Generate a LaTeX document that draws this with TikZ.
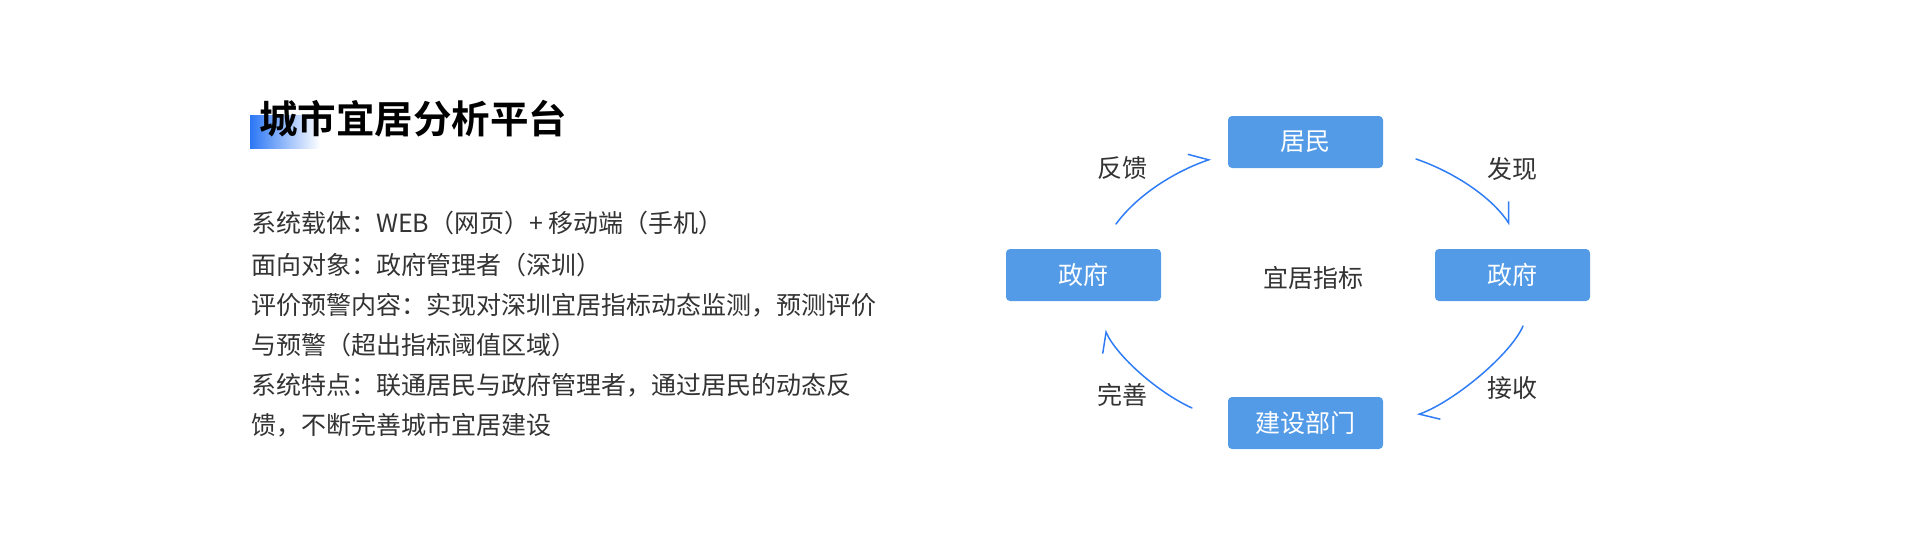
\documentclass[tikz,border=0pt]{standalone}
\usepackage{fontspec}
\setmainfont{Noto Sans CJK SC}[BoldFont={Noto Sans CJK SC Bold}]
\usetikzlibrary{arrows.meta}
\definecolor{boxblue}{HTML}{549BE7}
\definecolor{arrowblue}{HTML}{2F7DF6}
\definecolor{txt}{HTML}{333333}
\definecolor{gradblue}{HTML}{2C77F5}
\tikzset{
  bodyline/.style={anchor=base west, inner sep=0pt, text=txt, font=\fontsize{25}{25}\selectfont},
  bluebox/.style={fill=boxblue, rounded corners=4pt, minimum width=155pt, minimum height=52pt, inner sep=0pt, text=white, font=\fontsize{25}{25}\selectfont},
  lbl/.style={inner sep=0pt, text=txt, font=\fontsize{25}{25}\selectfont},
  cyc/.style={draw=arrowblue, line width=1.5pt, line cap=round, -{Straight Barb[left, length=18pt, width=24pt, line width=1.5pt]}}
}
\begin{document}
\begin{tikzpicture}[x=1pt, y=-1pt]
\useasboundingbox (0,0) rectangle (1920,550);
% title
\shade[left color=gradblue, right color=white, shading angle=90] (250,115) rectangle (320,148);
\node[anchor=base west, inner sep=0pt, text=black, font=\fontsize{38.5}{38.5}\selectfont\bfseries] (title) at (259,133.5) {城市宜居分析平台};
% body
\node[bodyline] (l1) at (251,232.5) {系统载体：WEB（网页）+ 移动端（手机）};
\node[bodyline] (l2) at (251,274.5) {面向对象：政府管理者（深圳）};
\node[bodyline] (l3) at (251,314.5) {评价预警内容：实现对深圳宜居指标动态监测，预测评价};
\node[bodyline] (l4) at (251,354.5) {与预警（超出指标阈值区域）};
\node[bodyline] (l5) at (251,394.5) {系统特点：联通居民与政府管理者，通过居民的动态反};
\node[bodyline] (l6) at (251,434.5) {馈，不断完善城市宜居建设};
% cycle boxes
\node[bluebox] (jm) at (1305.5,142) {居民};
\node[bluebox] (zfl) at (1083.5,275) {政府};
\node[bluebox] (zfr) at (1512.5,275) {政府};
\node[bluebox] (js) at (1305.5,423) {建设部门};
\node[lbl] (center) at (1313,278) {宜居指标};
% labels
\node[lbl] (fk) at (1122,168) {反馈};
\node[lbl] (fx) at (1512,169) {发现};
\node[lbl] (js2) at (1512,388) {接收};
\node[lbl] (ws) at (1122,395) {完善};
% arrow endpoints
\coordinate (a1s) at (1116,224); \coordinate (a1e) at (1211,159);
\coordinate (a2s) at (1416,159); \coordinate (a2e) at (1510,225);
\coordinate (a3s) at (1523,326); \coordinate (a3e) at (1417,415);
\coordinate (a4s) at (1192,408); \coordinate (a4e) at (1105,330);
\draw[cyc] (a1s) .. controls +(22,-30) and +(-35,12) .. (a1e);
\draw[cyc] (a2s) .. controls +(35,12) and +(-20,-30) .. (a2e);
\draw[cyc] (a3s) .. controls +(-12,28) and +(38,-14) .. (a3e);
\draw[cyc] (a4s) .. controls +(-35,-16) and +(12,26) .. (a4e);
\end{tikzpicture}
\end{document}
